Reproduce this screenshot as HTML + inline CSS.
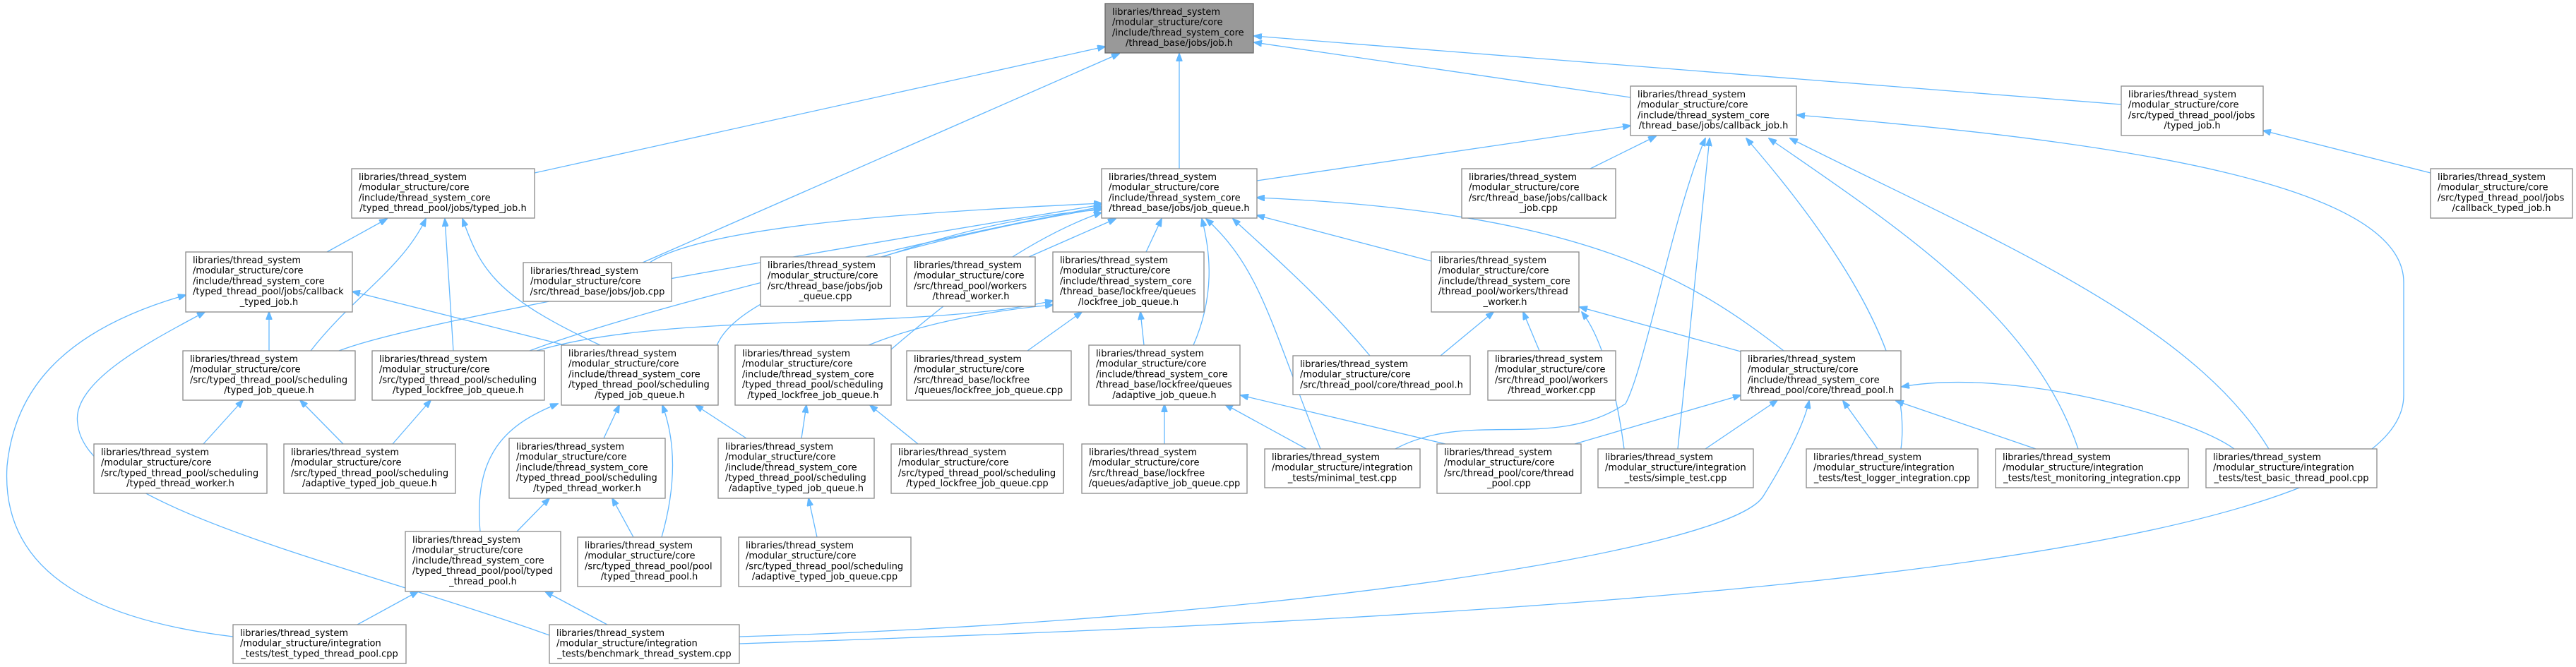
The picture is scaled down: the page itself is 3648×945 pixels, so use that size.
<!DOCTYPE html>
<html><head><meta charset="utf-8"><style>
html,body{margin:0;padding:0;background:#fff;}
svg{display:block;}
text{font-family:"DejaVu Sans","Liberation Sans",sans-serif;font-size:13px;fill:#000;}
.b{fill:#fff;stroke:#8a8a8a;stroke-width:1.3;}
.r{fill:#999;stroke:#666;stroke-width:1.3;}
.e{fill:none;stroke:#63b8ff;stroke-width:1.3;marker-end:url(#ah);}
.c{text-anchor:middle;}
</style></head><body>
<svg width="3648" height="945" viewBox="0 0 3648 945" xmlns="http://www.w3.org/2000/svg">
<defs><marker id="ah" markerWidth="12" markerHeight="9" refX="11" refY="4.5" orient="auto" markerUnits="userSpaceOnUse"><path d="M0,0 L12,4.5 L0,9 z" fill="#63b8ff" stroke="#63b8ff"/></marker></defs>
<rect width="3648" height="945" fill="#fff"/>
<!-- edges -->
<path class="e" d="M757,245 L1565,66"/>
<path class="e" d="M910,372 L1585,76"/>
<path class="e" d="M1670,239 L1670,76"/>
<path class="e" d="M2309,138 L1776,60"/>
<path class="e" d="M3004,148 L1776,51"/>
<path class="e" d="M1780,256 L2309,178"/>
<path class="e" d="M2252,239 L2345,193"/>
<path class="e" d="M1976,636 C2080,580 2200,640 2302,572 C2330,520 2370,300 2415,196"/>
<path class="e" d="M2376,636 L2421,196"/>
<path class="e" d="M2692,636 C2705,540 2650,400 2473,196"/>
<path class="e" d="M2943,636 C2880,450 2700,330 2505,196"/>
<path class="e" d="M3213,636 C3100,450 2800,330 2535,196"/>
<path class="e" d="M1047,912 C2000,880 3404,820 3404,560 L3404,400 C3404,260 3000,200 2545,163"/>
<path class="e" d="M1047,902 C1800,880 2450,780 2497,703 C2530,650 2555,600 2562,568"/>
<path class="e" d="M2526,497 C2400,400 2250,300 1780,280"/>
<path class="e" d="M2465,498 L2237,435"/>
<path class="e" d="M2300,636 C2290,560 2270,480 2240,442"/>
<path class="e" d="M2040,504 L2115,442"/>
<path class="e" d="M2180,497 L2157,442"/>
<path class="e" d="M2230,629 L2465,560"/>
<path class="e" d="M2415,636 L2517,567"/>
<path class="e" d="M2659,636 L2610,568"/>
<path class="e" d="M2883,636 L2685,568"/>
<path class="e" d="M3164,636 C3100,590 2850,520 2693,548"/>
<path class="e" d="M1457,364 L1580,310"/>
<path class="e" d="M1623,357 L1645,310"/>
<path class="e" d="M1690,489 C1720,420 1715,360 1702,310"/>
<path class="e" d="M1870,636 C1800,460 1785,380 1708,310"/>
<path class="e" d="M1940,504 C1870,420 1800,360 1746,310"/>
<path class="e" d="M2027,370 L1780,305"/>
<path class="e" d="M1250,364 C1350,330 1450,305 1560,297"/>
<path class="e" d="M920,372 C1000,320 1300,300 1560,288"/>
<path class="e" d="M480,497 C600,450 1200,350 1560,290"/>
<path class="e" d="M750,497 C900,440 1300,340 1560,293"/>
<path class="e" d="M1015,490 C1050,400 1350,330 1560,295"/>
<path class="e" d="M1262,495 C1350,420 1450,340 1560,301"/>
<path class="e" d="M1455,497 L1532,442"/>
<path class="e" d="M1620,489 L1615,442"/>
<path class="e" d="M1230,489 C1300,460 1400,440 1491,432"/>
<path class="e" d="M760,497 C950,440 1300,470 1491,426"/>
<path class="e" d="M1649,629 L1649,573"/>
<path class="e" d="M1850,636 L1735,573"/>
<path class="e" d="M2047,629 L1757,560"/>
<path class="e" d="M463,357 L548,310"/>
<path class="e" d="M440,497 C500,420 570,380 603,310"/>
<path class="e" d="M642,497 L630,310"/>
<path class="e" d="M850,489 C700,420 680,380 655,310"/>
<path class="e" d="M381,497 L381,442"/>
<path class="e" d="M800,489 L499,413"/>
<path class="e" d="M330,902 C150,880 0,820 10,660 C20,560 80,470 263,418"/>
<path class="e" d="M778,900 C500,800 120,720 110,600 C100,540 220,480 290,442"/>
<path class="e" d="M288,629 L344,567"/>
<path class="e" d="M486,629 L425,567"/>
<path class="e" d="M556,629 L610,567"/>
<path class="e" d="M855,621 L877,574"/>
<path class="e" d="M680,753 C670,640 720,600 790,572"/>
<path class="e" d="M937,761 C960,680 955,620 938,574"/>
<path class="e" d="M1057,621 L985,574"/>
<path class="e" d="M1135,621 L1142,574"/>
<path class="e" d="M1300,629 L1232,574"/>
<path class="e" d="M732,753 L778,706"/>
<path class="e" d="M897,761 L867,706"/>
<path class="e" d="M1157,761 L1145,706"/>
<path class="e" d="M506,885 L592,838"/>
<path class="e" d="M860,885 L772,838"/>
<path class="e" d="M3442,245 L3205,185"/>
<!-- nodes -->
<rect class="r" x="1565" y="5" width="210" height="70"/>
<text><tspan x="1575" y="21">libraries/thread_system</tspan><tspan x="1575" y="35.7">/modular_structure/core</tspan><tspan x="1575" y="50.4">/include/thread_system_core</tspan><tspan class="c" x="1670" y="65.1">/thread_base/jobs/job.h</tspan></text>

<rect class="b" x="498" y="239" width="259" height="70"/>
<text><tspan x="508" y="255">libraries/thread_system</tspan><tspan x="508" y="269.7">/modular_structure/core</tspan><tspan x="508" y="284.4">/include/thread_system_core</tspan><tspan class="c" x="627.5" y="299.1">/typed_thread_pool/jobs/typed_job.h</tspan></text>

<rect class="b" x="263" y="357" width="236" height="85"/>
<text><tspan x="273" y="373">libraries/thread_system</tspan><tspan x="273" y="387.7">/modular_structure/core</tspan><tspan x="273" y="402.4">/include/thread_system_core</tspan><tspan x="273" y="417.1">/typed_thread_pool/jobs/callback</tspan><tspan class="c" x="381" y="431.8">_typed_job.h</tspan></text>

<rect class="b" x="741" y="372" width="210" height="55"/>
<text><tspan x="751" y="388">libraries/thread_system</tspan><tspan x="751" y="402.7">/modular_structure/core</tspan><tspan class="c" x="846" y="417.4">/src/thread_base/jobs/job.cpp</tspan></text>

<rect class="b" x="1077" y="364" width="184" height="70"/>
<text><tspan x="1087" y="380">libraries/thread_system</tspan><tspan x="1087" y="394.7">/modular_structure/core</tspan><tspan x="1087" y="409.4">/src/thread_base/jobs/job</tspan><tspan class="c" x="1169" y="424.1">_queue.cpp</tspan></text>

<rect class="b" x="1284" y="364" width="182" height="70"/>
<text><tspan x="1294" y="380">libraries/thread_system</tspan><tspan x="1294" y="394.7">/modular_structure/core</tspan><tspan x="1294" y="409.4">/src/thread_pool/workers</tspan><tspan class="c" x="1375" y="424.1">/thread_worker.h</tspan></text>

<rect class="b" x="1560" y="239" width="220" height="70"/>
<text><tspan x="1570" y="255">libraries/thread_system</tspan><tspan x="1570" y="269.7">/modular_structure/core</tspan><tspan x="1570" y="284.4">/include/thread_system_core</tspan><tspan class="c" x="1670" y="299.1">/thread_base/jobs/job_queue.h</tspan></text>

<rect class="b" x="2309" y="122" width="235" height="70"/>
<text><tspan x="2319" y="138">libraries/thread_system</tspan><tspan x="2319" y="152.7">/modular_structure/core</tspan><tspan x="2319" y="167.4">/include/thread_system_core</tspan><tspan class="c" x="2426.5" y="182.1">/thread_base/jobs/callback_job.h</tspan></text>

<rect class="b" x="2070" y="239" width="218" height="70"/>
<text><tspan x="2080" y="255">libraries/thread_system</tspan><tspan x="2080" y="269.7">/modular_structure/core</tspan><tspan x="2080" y="284.4">/src/thread_base/jobs/callback</tspan><tspan class="c" x="2179" y="299.1">_job.cpp</tspan></text>

<rect class="b" x="1491" y="357" width="214" height="85"/>
<text><tspan x="1501" y="373">libraries/thread_system</tspan><tspan x="1501" y="387.7">/modular_structure/core</tspan><tspan x="1501" y="402.4">/include/thread_system_core</tspan><tspan x="1501" y="417.1">/thread_base/lockfree/queues</tspan><tspan class="c" x="1598" y="431.8">/lockfree_job_queue.h</tspan></text>

<rect class="b" x="2027" y="357" width="209" height="85"/>
<text><tspan x="2037" y="373">libraries/thread_system</tspan><tspan x="2037" y="387.7">/modular_structure/core</tspan><tspan x="2037" y="402.4">/include/thread_system_core</tspan><tspan x="2037" y="417.1">/thread_pool/workers/thread</tspan><tspan class="c" x="2131.5" y="431.8">_worker.h</tspan></text>

<rect class="b" x="3004" y="122" width="201" height="70"/>
<text><tspan x="3014" y="138">libraries/thread_system</tspan><tspan x="3014" y="152.7">/modular_structure/core</tspan><tspan x="3014" y="167.4">/src/typed_thread_pool/jobs</tspan><tspan class="c" x="3104.5" y="182.1">/typed_job.h</tspan></text>

<rect class="b" x="3442" y="239" width="201" height="70"/>
<text><tspan x="3452" y="255">libraries/thread_system</tspan><tspan x="3452" y="269.7">/modular_structure/core</tspan><tspan x="3452" y="284.4">/src/typed_thread_pool/jobs</tspan><tspan class="c" x="3542.5" y="299.1">/callback_typed_job.h</tspan></text>

<rect class="b" x="259" y="497" width="244" height="70"/>
<text><tspan x="269" y="513">libraries/thread_system</tspan><tspan x="269" y="527.7">/modular_structure/core</tspan><tspan x="269" y="542.4">/src/typed_thread_pool/scheduling</tspan><tspan class="c" x="381" y="557.1">/typed_job_queue.h</tspan></text>

<rect class="b" x="527" y="497" width="244" height="70"/>
<text><tspan x="537" y="513">libraries/thread_system</tspan><tspan x="537" y="527.7">/modular_structure/core</tspan><tspan x="537" y="542.4">/src/typed_thread_pool/scheduling</tspan><tspan class="c" x="649" y="557.1">/typed_lockfree_job_queue.h</tspan></text>

<rect class="b" x="795" y="489" width="222" height="85"/>
<text><tspan x="805" y="505">libraries/thread_system</tspan><tspan x="805" y="519.7">/modular_structure/core</tspan><tspan x="805" y="534.4">/include/thread_system_core</tspan><tspan x="805" y="549.1">/typed_thread_pool/scheduling</tspan><tspan class="c" x="906" y="563.8">/typed_job_queue.h</tspan></text>

<rect class="b" x="1041" y="489" width="221" height="85"/>
<text><tspan x="1051" y="505">libraries/thread_system</tspan><tspan x="1051" y="519.7">/modular_structure/core</tspan><tspan x="1051" y="534.4">/include/thread_system_core</tspan><tspan x="1051" y="549.1">/typed_thread_pool/scheduling</tspan><tspan class="c" x="1151.5" y="563.8">/typed_lockfree_job_queue.h</tspan></text>

<rect class="b" x="1284" y="497" width="233" height="70"/>
<text><tspan x="1294" y="513">libraries/thread_system</tspan><tspan x="1294" y="527.7">/modular_structure/core</tspan><tspan x="1294" y="542.4">/src/thread_base/lockfree</tspan><tspan class="c" x="1400.5" y="557.1">/queues/lockfree_job_queue.cpp</tspan></text>

<rect class="b" x="1542" y="489" width="214" height="85"/>
<text><tspan x="1552" y="505">libraries/thread_system</tspan><tspan x="1552" y="519.7">/modular_structure/core</tspan><tspan x="1552" y="534.4">/include/thread_system_core</tspan><tspan x="1552" y="549.1">/thread_base/lockfree/queues</tspan><tspan class="c" x="1649" y="563.8">/adaptive_job_queue.h</tspan></text>

<rect class="b" x="1831" y="504" width="251" height="55"/>
<text><tspan x="1841" y="520">libraries/thread_system</tspan><tspan x="1841" y="534.7">/modular_structure/core</tspan><tspan class="c" x="1956.5" y="549.4">/src/thread_pool/core/thread_pool.h</tspan></text>

<rect class="b" x="2107" y="497" width="181" height="70"/>
<text><tspan x="2117" y="513">libraries/thread_system</tspan><tspan x="2117" y="527.7">/modular_structure/core</tspan><tspan x="2117" y="542.4">/src/thread_pool/workers</tspan><tspan class="c" x="2197.5" y="557.1">/thread_worker.cpp</tspan></text>

<rect class="b" x="2465" y="497" width="227" height="70"/>
<text><tspan x="2475" y="513">libraries/thread_system</tspan><tspan x="2475" y="527.7">/modular_structure/core</tspan><tspan x="2475" y="542.4">/include/thread_system_core</tspan><tspan class="c" x="2578.5" y="557.1">/thread_pool/core/thread_pool.h</tspan></text>

<rect class="b" x="133" y="629" width="245" height="70"/>
<text><tspan x="143" y="645">libraries/thread_system</tspan><tspan x="143" y="659.7">/modular_structure/core</tspan><tspan x="143" y="674.4">/src/typed_thread_pool/scheduling</tspan><tspan class="c" x="255.5" y="689.1">/typed_thread_worker.h</tspan></text>

<rect class="b" x="402" y="629" width="243" height="70"/>
<text><tspan x="412" y="645">libraries/thread_system</tspan><tspan x="412" y="659.7">/modular_structure/core</tspan><tspan x="412" y="674.4">/src/typed_thread_pool/scheduling</tspan><tspan class="c" x="523.5" y="689.1">/adaptive_typed_job_queue.h</tspan></text>

<rect class="b" x="721" y="621" width="221" height="85"/>
<text><tspan x="731" y="637">libraries/thread_system</tspan><tspan x="731" y="651.7">/modular_structure/core</tspan><tspan x="731" y="666.4">/include/thread_system_core</tspan><tspan x="731" y="681.1">/typed_thread_pool/scheduling</tspan><tspan class="c" x="831.5" y="695.8">/typed_thread_worker.h</tspan></text>

<rect class="b" x="1017" y="621" width="221" height="85"/>
<text><tspan x="1027" y="637">libraries/thread_system</tspan><tspan x="1027" y="651.7">/modular_structure/core</tspan><tspan x="1027" y="666.4">/include/thread_system_core</tspan><tspan x="1027" y="681.1">/typed_thread_pool/scheduling</tspan><tspan class="c" x="1127.5" y="695.8">/adaptive_typed_job_queue.h</tspan></text>

<rect class="b" x="1262" y="629" width="244" height="70"/>
<text><tspan x="1272" y="645">libraries/thread_system</tspan><tspan x="1272" y="659.7">/modular_structure/core</tspan><tspan x="1272" y="674.4">/src/typed_thread_pool/scheduling</tspan><tspan class="c" x="1384" y="689.1">/typed_lockfree_job_queue.cpp</tspan></text>

<rect class="b" x="1532" y="629" width="234" height="70"/>
<text><tspan x="1542" y="645">libraries/thread_system</tspan><tspan x="1542" y="659.7">/modular_structure/core</tspan><tspan x="1542" y="674.4">/src/thread_base/lockfree</tspan><tspan class="c" x="1649" y="689.1">/queues/adaptive_job_queue.cpp</tspan></text>

<rect class="b" x="1791" y="636" width="220" height="55"/>
<text><tspan x="1801" y="652">libraries/thread_system</tspan><tspan x="1801" y="666.7">/modular_structure/integration</tspan><tspan class="c" x="1901" y="681.4">_tests/minimal_test.cpp</tspan></text>

<rect class="b" x="2035" y="629" width="204" height="70"/>
<text><tspan x="2045" y="645">libraries/thread_system</tspan><tspan x="2045" y="659.7">/modular_structure/core</tspan><tspan x="2045" y="674.4">/src/thread_pool/core/thread</tspan><tspan class="c" x="2137" y="689.1">_pool.cpp</tspan></text>

<rect class="b" x="2263" y="636" width="220" height="55"/>
<text><tspan x="2273" y="652">libraries/thread_system</tspan><tspan x="2273" y="666.7">/modular_structure/integration</tspan><tspan class="c" x="2373" y="681.4">_tests/simple_test.cpp</tspan></text>

<rect class="b" x="2558" y="636" width="243" height="55"/>
<text><tspan x="2568" y="652">libraries/thread_system</tspan><tspan x="2568" y="666.7">/modular_structure/integration</tspan><tspan class="c" x="2679.5" y="681.4">_tests/test_logger_integration.cpp</tspan></text>

<rect class="b" x="2826" y="636" width="273" height="55"/>
<text><tspan x="2836" y="652">libraries/thread_system</tspan><tspan x="2836" y="666.7">/modular_structure/integration</tspan><tspan class="c" x="2962.5" y="681.4">_tests/test_monitoring_integration.cpp</tspan></text>

<rect class="b" x="3124" y="636" width="242" height="55"/>
<text><tspan x="3134" y="652">libraries/thread_system</tspan><tspan x="3134" y="666.7">/modular_structure/integration</tspan><tspan class="c" x="3245" y="681.4">_tests/test_basic_thread_pool.cpp</tspan></text>

<rect class="b" x="574" y="753" width="220" height="85"/>
<text><tspan x="584" y="769">libraries/thread_system</tspan><tspan x="584" y="783.7">/modular_structure/core</tspan><tspan x="584" y="798.4">/include/thread_system_core</tspan><tspan x="584" y="813.1">/typed_thread_pool/pool/typed</tspan><tspan class="c" x="684" y="827.8">_thread_pool.h</tspan></text>

<rect class="b" x="818" y="761" width="203" height="70"/>
<text><tspan x="828" y="777">libraries/thread_system</tspan><tspan x="828" y="791.7">/modular_structure/core</tspan><tspan x="828" y="806.4">/src/typed_thread_pool/pool</tspan><tspan class="c" x="919.5" y="821.1">/typed_thread_pool.h</tspan></text>

<rect class="b" x="1046" y="761" width="244" height="70"/>
<text><tspan x="1056" y="777">libraries/thread_system</tspan><tspan x="1056" y="791.7">/modular_structure/core</tspan><tspan x="1056" y="806.4">/src/typed_thread_pool/scheduling</tspan><tspan class="c" x="1168" y="821.1">/adaptive_typed_job_queue.cpp</tspan></text>

<rect class="b" x="330" y="885" width="245" height="55"/>
<text><tspan x="340" y="901">libraries/thread_system</tspan><tspan x="340" y="915.7">/modular_structure/integration</tspan><tspan class="c" x="452.5" y="930.4">_tests/test_typed_thread_pool.cpp</tspan></text>

<rect class="b" x="778" y="885" width="269" height="55"/>
<text><tspan x="788" y="901">libraries/thread_system</tspan><tspan x="788" y="915.7">/modular_structure/integration</tspan><tspan class="c" x="912.5" y="930.4">_tests/benchmark_thread_system.cpp</tspan></text>
</svg>
</body></html>
